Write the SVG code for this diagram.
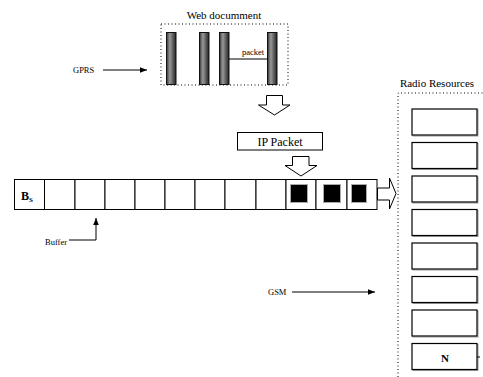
<svg xmlns="http://www.w3.org/2000/svg" width="483" height="377" viewBox="0 0 483 377">
<defs>
<linearGradient id="barg" x1="0" y1="0" x2="1" y2="0">
<stop offset="0" stop-color="#333"/>
<stop offset="0.35" stop-color="#999"/>
<stop offset="1" stop-color="#222"/>
</linearGradient>
<marker id="ah" viewBox="0 0 10 10" refX="10" refY="5" markerWidth="7" markerHeight="7" markerUnits="userSpaceOnUse" orient="auto">
<path d="M0,1 L10,5 L0,9 Z" fill="#000"/>
</marker>
</defs>
<style>
text{font-family:"Liberation Serif","Times New Roman",serif;fill:#000}
.t{font-size:11px}
.s{font-size:8.5px}
.cell{fill:#fff;stroke:#000;stroke-width:1}
.res{fill:#fff;stroke:#000;stroke-width:1.2}
.resS{fill:none;stroke:#999;stroke-width:1}
.dot{fill:none;stroke:#000;stroke-width:1;stroke-dasharray:1,2.5}
.bar{fill:url(#barg);stroke:#111;stroke-width:1}
.hollow{fill:#fff;stroke:#000;stroke-width:1}
.ln{fill:none;stroke:#000;stroke-width:1}
</style>
<rect width="483" height="377" fill="#fff"/>

<g id="web-document">
<text class="t" x="224" y="19" text-anchor="middle" font-family="Liberation Serif, serif">Web documment</text>
<rect class="dot" x="161" y="24" width="127" height="61"/>
<rect class="bar" x="166.5" y="32.5" width="9.5" height="52"/>
<rect class="bar" x="199.5" y="32.5" width="9.5" height="52"/>
<rect class="bar" x="219.5" y="32.5" width="9.5" height="52"/>
<rect class="bar" x="267.5" y="32.5" width="9.5" height="52"/>
<line class="ln" x1="229" y1="59" x2="267" y2="59"/>
<text class="s" x="253" y="55" text-anchor="middle" font-size="8px">packet</text>
</g>

<g id="gprs">
<text class="s" x="73" y="73">GPRS</text>
</g>

<g id="ip-packet">
<rect class="cell" x="237.5" y="132.5" width="85" height="17.5"/>
<text x="280" y="145.5" text-anchor="middle" font-size="12px">IP Packet</text>
</g>

<g id="buffer">
<rect class="cell" x="14.5" y="179.5" width="30" height="30"/>
<rect class="cell" x="44.5" y="179.5" width="30.5" height="30"/>
<rect class="cell" x="75" y="179.5" width="30" height="30"/>
<rect class="cell" x="105" y="179.5" width="30" height="30"/>
<rect class="cell" x="135" y="179.5" width="30" height="30"/>
<rect class="cell" x="165" y="179.5" width="30" height="30"/>
<rect class="cell" x="195" y="179.5" width="30" height="30"/>
<rect class="cell" x="225" y="179.5" width="31" height="30"/>
<rect class="cell" x="256" y="179.5" width="30" height="30"/>
<rect class="cell" x="286" y="179.5" width="30" height="30"/>
<rect class="cell" x="316" y="179.5" width="31" height="30"/>
<rect class="cell" x="347" y="179.5" width="30" height="30"/>
<rect x="290.5" y="184.5" width="17" height="18" fill="#000" stroke="#aaa" stroke-width="1"/>
<rect x="323.5" y="184.5" width="17" height="18" fill="#000" stroke="#aaa" stroke-width="1"/>
<rect x="351.5" y="184.5" width="15" height="18" fill="#000" stroke="#aaa" stroke-width="1"/>
<text x="21" y="200" font-size="12px" font-weight="bold">B<tspan font-size="7px" dy="2">S</tspan></text>
<text class="s" x="45" y="245">Buffer</text>
</g>

<g id="radio-resources">
<text class="t" x="437" y="87" text-anchor="middle">Radio Resources</text>
<polyline class="dot" points="398,377 398,93 483,93"/>
<rect class="resS" x="413" y="110" width="65" height="26"/>
<rect class="res" x="412" y="109" width="65" height="26"/>
<rect class="resS" x="413" y="143.5" width="65" height="26"/>
<rect class="res" x="412" y="142.5" width="65" height="26"/>
<rect class="resS" x="413" y="177" width="65" height="26"/>
<rect class="res" x="412" y="176" width="65" height="26"/>
<rect class="resS" x="413" y="210.5" width="65" height="26"/>
<rect class="res" x="412" y="209.5" width="65" height="26"/>
<rect class="resS" x="413" y="244" width="65" height="26"/>
<rect class="res" x="412" y="243" width="65" height="26"/>
<rect class="resS" x="413" y="277.5" width="65" height="26"/>
<rect class="res" x="412" y="276.5" width="65" height="26"/>
<rect class="resS" x="413" y="311" width="65" height="26"/>
<rect class="res" x="412" y="310" width="65" height="26"/>
<rect class="resS" x="413" y="344.5" width="65" height="26"/>
<rect class="res" x="412" y="343.5" width="65" height="26"/>
<text x="445" y="362" font-size="11px" font-weight="bold" text-anchor="middle">N</text>
<line class="ln" x1="477" y1="357" x2="480" y2="357"/>
</g>

<g id="gsm">
<text class="s" x="268" y="295">GSM</text>
</g>

<g id="connectors">
<line class="ln" x1="103" y1="70" x2="147" y2="70" marker-end="url(#ah)"/>
<polygon class="hollow" points="266.5,95.5 282.5,95.5 282.5,105 290,105 274.5,115 258.5,105 266.5,105"/>
<polygon class="hollow" points="292.5,156.5 309,156.5 309,165.5 317,165.5 301,176 285,165.5 292.5,165.5"/>
<polygon class="hollow" points="377.5,188 389.5,188 389.5,178 396,193.5 389.5,209 389.5,200 377.5,200"/>
<polyline class="ln" points="69,240 96,240 96,218" marker-end="url(#ah)"/>
<line class="ln" x1="292" y1="292" x2="375" y2="292" marker-end="url(#ah)"/>
</g>
</svg>
